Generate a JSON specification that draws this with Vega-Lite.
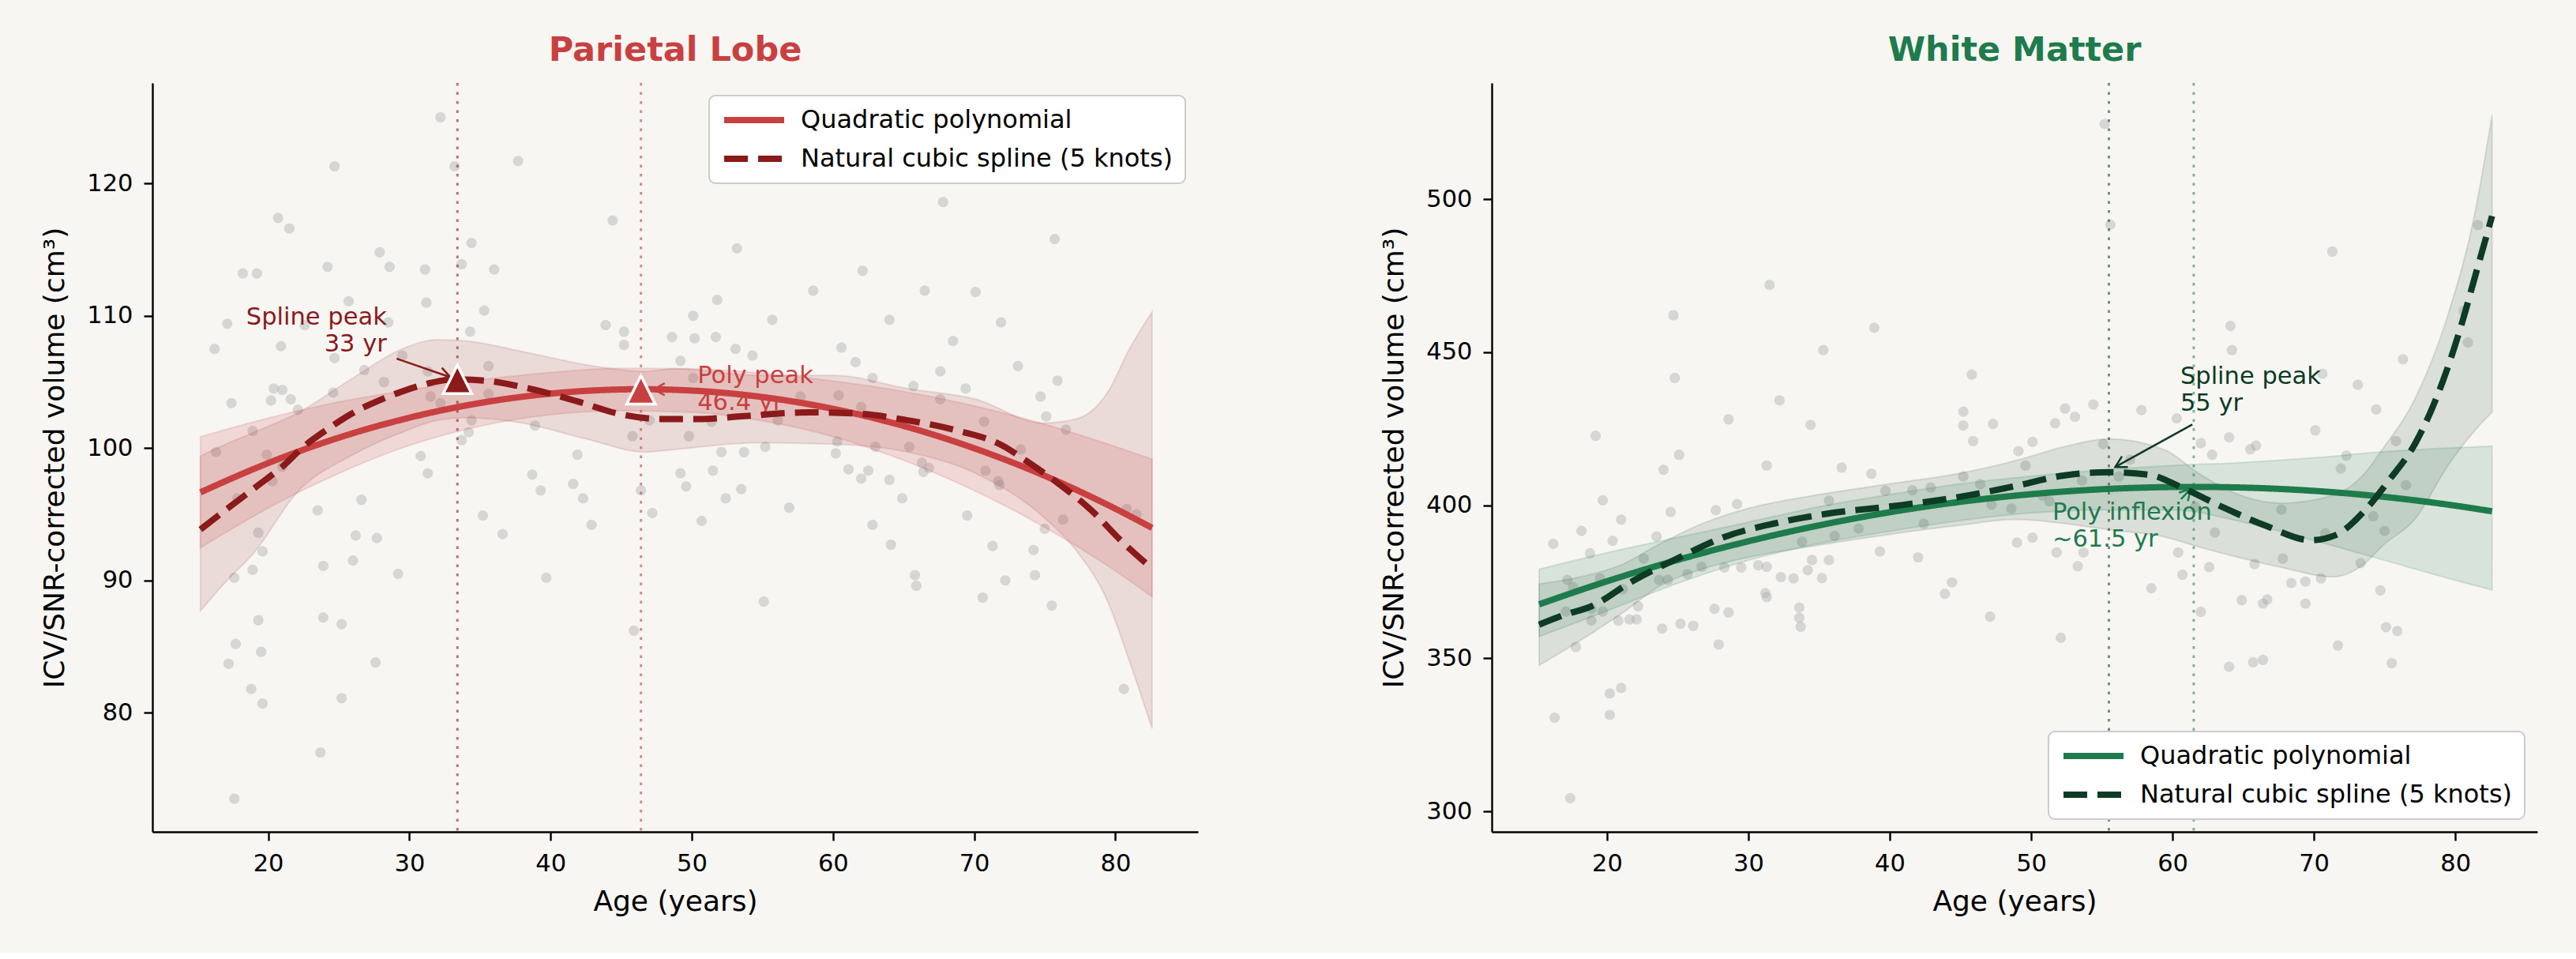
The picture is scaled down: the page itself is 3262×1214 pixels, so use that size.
{
  "$schema": "https://vega.github.io/schema/vega-lite/v6.json",
  "background": "#f7f6f3",
  "padding": {"left": 51, "top": 42, "right": 50, "bottom": 46},
  "spacing": 230,
  "config": {
    "font": "DejaVu Sans",
    "view": {"stroke": null},
    "axis": {
      "grid": false,
      "domainColor": "#000000",
      "domainWidth": 2.4,
      "tickColor": "#000000",
      "tickWidth": 2.4,
      "tickSize": 11,
      "labelFont": "DejaVu Sans",
      "labelFontSize": 30.5,
      "labelColor": "#000000",
      "labelPadding": 14,
      "titleFont": "DejaVu Sans",
      "titleFontSize": 36,
      "titleFontWeight": "normal",
      "titleColor": "#000000"
    },
    "axisX": {"titlePadding": 16},
    "axisY": {"titlePadding": 21},
    "title": {"font": "DejaVu Sans", "fontSize": 43, "fontWeight": "bold", "anchor": "middle", "frame": "group", "baseline": "alphabetic", "offset": 18},
    "legend": {
      "offset": 16,
      "padding": 15,
      "fillColor": "#ffffff",
      "strokeColor": "#cccccc",
      "strokeWidth": 2,
      "cornerRadius": 8,
      "labelFont": "DejaVu Sans",
      "labelFontSize": 32,
      "labelColor": "#000000",
      "labelOffset": 17,
      "labelLimit": 0,
      "rowPadding": 17,
      "clipHeight": 32,
      "symbolType": "stroke",
      "symbolSize": 5776,
      "symbolStrokeWidth": 8
    }
  },
  "datasets": {
    "pts_l": [
      {"age": 32.2, "vol": 125.0}, {"age": 24.7, "vol": 121.3}, {"age": 33.2, "vol": 121.3}, {"age": 37.7, "vol": 121.7},
      {"age": 20.7, "vol": 117.4}, {"age": 21.5, "vol": 116.6}, {"age": 44.4, "vol": 117.2}, {"age": 34.4, "vol": 115.5},
      {"age": 27.9, "vol": 114.8}, {"age": 18.2, "vol": 113.2}, {"age": 19.2, "vol": 113.2}, {"age": 24.2, "vol": 113.7},
      {"age": 28.6, "vol": 113.7}, {"age": 31.1, "vol": 113.5}, {"age": 33.7, "vol": 113.9}, {"age": 36.0, "vol": 113.5},
      {"age": 25.7, "vol": 111.1}, {"age": 31.2, "vol": 111.0}, {"age": 35.3, "vol": 110.4}, {"age": 17.1, "vol": 109.4},
      {"age": 22.6, "vol": 109.3}, {"age": 28.5, "vol": 109.5}, {"age": 34.3, "vol": 108.8}, {"age": 16.2, "vol": 107.5},
      {"age": 20.9, "vol": 107.7}, {"age": 24.7, "vol": 106.8}, {"age": 29.5, "vol": 107.0}, {"age": 43.9, "vol": 109.3},
      {"age": 45.2, "vol": 108.8}, {"age": 45.2, "vol": 107.8}, {"age": 26.8, "vol": 105.9}, {"age": 35.6, "vol": 106.2},
      {"age": 31.3, "vol": 105.8}, {"age": 28.2, "vol": 105.0}, {"age": 20.4, "vol": 104.5}, {"age": 21.0, "vol": 104.4},
      {"age": 24.6, "vol": 104.2}, {"age": 17.4, "vol": 103.4}, {"age": 20.2, "vol": 103.6}, {"age": 21.6, "vol": 103.7},
      {"age": 22.1, "vol": 102.9}, {"age": 31.5, "vol": 103.9}, {"age": 35.6, "vol": 104.1}, {"age": 32.2, "vol": 103.4},
      {"age": 18.9, "vol": 101.3}, {"age": 34.4, "vol": 102.1}, {"age": 34.2, "vol": 101.2}, {"age": 33.7, "vol": 100.6},
      {"age": 38.9, "vol": 101.7}, {"age": 45.8, "vol": 100.9}, {"age": 47.0, "vol": 102.1}, {"age": 16.3, "vol": 99.7},
      {"age": 19.9, "vol": 99.5}, {"age": 30.8, "vol": 99.4}, {"age": 41.9, "vol": 99.5},
      {"age": 31.3, "vol": 98.1}, {"age": 38.7, "vol": 98.0}, {"age": 39.3, "vol": 96.8}, {"age": 41.6, "vol": 97.3},
      {"age": 42.3, "vol": 96.2}, {"age": 46.4, "vol": 96.8}, {"age": 47.2, "vol": 95.1}, {"age": 42.9, "vol": 94.2},
      {"age": 35.2, "vol": 94.9}, {"age": 36.6, "vol": 93.5}, {"age": 26.6, "vol": 96.1}, {"age": 23.5, "vol": 95.3},
      {"age": 20.3, "vol": 97.5}, {"age": 17.8, "vol": 96.2}, {"age": 19.3, "vol": 93.6}, {"age": 19.6, "vol": 92.2},
      {"age": 18.9, "vol": 90.8}, {"age": 17.6, "vol": 90.2}, {"age": 26.2, "vol": 93.4}, {"age": 27.7, "vol": 93.2},
      {"age": 26.0, "vol": 91.5}, {"age": 23.9, "vol": 91.1}, {"age": 29.2, "vol": 90.5}, {"age": 39.7, "vol": 90.2},
      {"age": 19.3, "vol": 87.0}, {"age": 23.9, "vol": 87.2}, {"age": 25.2, "vol": 86.7}, {"age": 45.9, "vol": 86.2},
      {"age": 17.7, "vol": 85.2}, {"age": 19.5, "vol": 84.6}, {"age": 17.2, "vol": 83.7}, {"age": 27.6, "vol": 83.8},
      {"age": 18.8, "vol": 81.8}, {"age": 19.6, "vol": 80.7}, {"age": 25.2, "vol": 81.1}, {"age": 23.7, "vol": 77.0},
      {"age": 17.6, "vol": 73.5}, {"age": 21.0, "vol": 98.6},
      {"age": 67.8, "vol": 118.6}, {"age": 53.2, "vol": 115.1}, {"age": 75.7, "vol": 115.8}, {"age": 62.1, "vol": 113.4},
      {"age": 58.6, "vol": 111.9}, {"age": 66.5, "vol": 111.9}, {"age": 70.1, "vol": 111.8}, {"age": 51.8, "vol": 111.2},
      {"age": 50.1, "vol": 110.0}, {"age": 55.7, "vol": 109.7}, {"age": 64.0, "vol": 109.7}, {"age": 71.9, "vol": 109.5},
      {"age": 68.5, "vol": 108.1}, {"age": 50.2, "vol": 108.3}, {"age": 51.7, "vol": 108.4}, {"age": 48.6, "vol": 108.4},
      {"age": 53.1, "vol": 107.5}, {"age": 54.3, "vol": 107.0}, {"age": 60.6, "vol": 107.6}, {"age": 49.2, "vol": 106.6},
      {"age": 61.6, "vol": 106.5}, {"age": 73.1, "vol": 106.2}, {"age": 67.6, "vol": 105.8}, {"age": 75.9, "vol": 105.1},
      {"age": 62.8, "vol": 105.3}, {"age": 65.7, "vol": 104.7}, {"age": 69.4, "vol": 104.5}, {"age": 60.4, "vol": 104.0},
      {"age": 57.7, "vol": 103.9}, {"age": 67.6, "vol": 103.7}, {"age": 74.7, "vol": 103.9}, {"age": 75.1, "vol": 102.4},
      {"age": 76.5, "vol": 101.4}, {"age": 70.7, "vol": 102.0}, {"age": 56.1, "vol": 102.1}, {"age": 51.4, "vol": 102.0},
      {"age": 62.0, "vol": 103.1}, {"age": 49.8, "vol": 100.9}, {"age": 60.3, "vol": 100.5}, {"age": 55.2, "vol": 100.1},
      {"age": 52.1, "vol": 99.7}, {"age": 53.7, "vol": 99.7}, {"age": 63.0, "vol": 100.1}, {"age": 65.4, "vol": 100.1},
      {"age": 73.3, "vol": 99.9}, {"age": 60.2, "vol": 99.6}, {"age": 50.1, "vol": 105.3},
      {"age": 49.2, "vol": 98.1}, {"age": 51.5, "vol": 98.3}, {"age": 49.6, "vol": 97.1}, {"age": 53.5, "vol": 96.9},
      {"age": 52.4, "vol": 96.2}, {"age": 50.7, "vol": 94.5}, {"age": 56.9, "vol": 95.5}, {"age": 55.1, "vol": 88.4},
      {"age": 61.1, "vol": 98.4}, {"age": 62.5, "vol": 98.3}, {"age": 62.0, "vol": 97.7}, {"age": 64.0, "vol": 97.6},
      {"age": 66.3, "vol": 98.9}, {"age": 66.8, "vol": 98.5}, {"age": 66.4, "vol": 98.2}, {"age": 64.9, "vol": 96.2},
      {"age": 62.8, "vol": 94.2}, {"age": 64.1, "vol": 92.7}, {"age": 65.8, "vol": 90.4}, {"age": 65.9, "vol": 89.6},
      {"age": 69.5, "vol": 94.9}, {"age": 70.8, "vol": 98.3}, {"age": 71.7, "vol": 97.5}, {"age": 71.8, "vol": 97.2},
      {"age": 71.3, "vol": 92.6}, {"age": 72.2, "vol": 90.0}, {"age": 70.6, "vol": 88.7}, {"age": 74.2, "vol": 92.3},
      {"age": 74.3, "vol": 90.4}, {"age": 75.0, "vol": 93.9}, {"age": 75.5, "vol": 88.1}, {"age": 76.3, "vol": 94.6},
      {"age": 80.8, "vol": 95.4}, {"age": 81.5, "vol": 95.0}, {"age": 80.6, "vol": 81.8}
    ],
    "pts_r": [
      {"age": 55.2, "vol": 524.6}, {"age": 55.6, "vol": 491.7}, {"age": 71.3, "vol": 482.9}, {"age": 81.6, "vol": 491.6},
      {"age": 31.5, "vol": 472.0}, {"age": 24.7, "vol": 462.1}, {"age": 38.9, "vol": 458.0}, {"age": 64.1, "vol": 458.6},
      {"age": 80.6, "vol": 463.5}, {"age": 80.9, "vol": 453.2}, {"age": 35.3, "vol": 450.7}, {"age": 64.2, "vol": 450.7},
      {"age": 76.3, "vol": 447.7}, {"age": 24.8, "vol": 441.6}, {"age": 45.8, "vol": 442.7}, {"age": 70.6, "vol": 443.0},
      {"age": 73.1, "vol": 439.4}, {"age": 32.2, "vol": 434.3}, {"age": 74.4, "vol": 431.3}, {"age": 28.6, "vol": 428.1},
      {"age": 34.4, "vol": 426.3}, {"age": 45.2, "vol": 430.6}, {"age": 45.2, "vol": 426.1}, {"age": 47.3, "vol": 426.6},
      {"age": 52.4, "vol": 431.6}, {"age": 53.1, "vol": 428.9}, {"age": 51.7, "vol": 426.8}, {"age": 54.4, "vol": 432.9},
      {"age": 57.8, "vol": 431.1}, {"age": 60.3, "vol": 428.4}, {"age": 19.2, "vol": 422.7}, {"age": 25.1, "vol": 416.5},
      {"age": 24.0, "vol": 411.6}, {"age": 31.3, "vol": 413.0}, {"age": 36.6, "vol": 412.3}, {"age": 38.7, "vol": 410.3},
      {"age": 49.1, "vol": 417.7}, {"age": 50.1, "vol": 420.7}, {"age": 49.6, "vol": 413.0}, {"age": 45.9, "vol": 421.0},
      {"age": 55.1, "vol": 420.0}, {"age": 62.0, "vol": 420.3}, {"age": 62.8, "vol": 416.5}, {"age": 64.0, "vol": 422.2},
      {"age": 65.5, "vol": 418.3}, {"age": 65.9, "vol": 419.5}, {"age": 70.1, "vol": 424.5}, {"age": 72.3, "vol": 416.2},
      {"age": 71.9, "vol": 412.0}, {"age": 75.8, "vol": 421.0}, {"age": 76.5, "vol": 406.6}, {"age": 57.0, "vol": 414.9},
      {"age": 53.6, "vol": 408.1}, {"age": 56.2, "vol": 409.4}, {"age": 45.2, "vol": 409.4}, {"age": 46.4, "vol": 406.9},
      {"age": 42.9, "vol": 405.8},
      {"age": 19.7, "vol": 401.6}, {"age": 16.2, "vol": 387.4}, {"age": 18.2, "vol": 391.6}, {"age": 20.4, "vol": 388.4},
      {"age": 21.0, "vol": 395.3}, {"age": 18.8, "vol": 384.3}, {"age": 24.5, "vol": 397.8}, {"age": 23.5, "vol": 389.8},
      {"age": 27.7, "vol": 398.4}, {"age": 29.2, "vol": 400.4}, {"age": 22.6, "vol": 382.6}, {"age": 17.2, "vol": 375.6},
      {"age": 19.5, "vol": 376.1}, {"age": 17.6, "vol": 373.3}, {"age": 21.1, "vol": 372.6}, {"age": 18.9, "vol": 366.2},
      {"age": 17.1, "vol": 365.3}, {"age": 19.7, "vol": 365.3}, {"age": 18.9, "vol": 362.3}, {"age": 20.8, "vol": 362.3},
      {"age": 21.6, "vol": 362.7}, {"age": 22.1, "vol": 362.7}, {"age": 22.2, "vol": 367.0}, {"age": 23.9, "vol": 359.7},
      {"age": 25.2, "vol": 361.3}, {"age": 26.1, "vol": 360.6}, {"age": 27.6, "vol": 366.2}, {"age": 28.6, "vol": 365.0},
      {"age": 27.9, "vol": 354.5}, {"age": 17.8, "vol": 353.7}, {"age": 21.0, "vol": 340.3}, {"age": 20.2, "vol": 338.5},
      {"age": 20.2, "vol": 331.5}, {"age": 16.3, "vol": 330.6}, {"age": 17.4, "vol": 304.3}, {"age": 23.7, "vol": 375.6},
      {"age": 24.3, "vol": 375.6}, {"age": 25.7, "vol": 377.5}, {"age": 26.7, "vol": 379.9}, {"age": 28.3, "vol": 379.7},
      {"age": 29.5, "vol": 379.7}, {"age": 30.7, "vol": 380.4}, {"age": 31.3, "vol": 379.9}, {"age": 32.3, "vol": 376.5},
      {"age": 33.2, "vol": 376.1}, {"age": 34.2, "vol": 378.8}, {"age": 35.2, "vol": 376.2}, {"age": 34.5, "vol": 382.1},
      {"age": 35.7, "vol": 382.1}, {"age": 31.2, "vol": 371.3}, {"age": 31.3, "vol": 370.0}, {"age": 33.6, "vol": 366.6},
      {"age": 33.6, "vol": 363.2}, {"age": 33.7, "vol": 360.3}, {"age": 33.8, "vol": 388.1}, {"age": 36.1, "vol": 390.0},
      {"age": 37.8, "vol": 392.4}, {"age": 35.7, "vol": 401.5}, {"age": 39.3, "vol": 384.9}, {"age": 42.0, "vol": 383.0},
      {"age": 42.4, "vol": 394.0}, {"age": 39.7, "vol": 404.7}, {"age": 41.6, "vol": 404.9}, {"age": 47.2, "vol": 400.2},
      {"age": 48.6, "vol": 398.9}, {"age": 44.4, "vol": 374.8}, {"age": 43.9, "vol": 371.1}, {"age": 47.1, "vol": 363.6},
      {"age": 49.0, "vol": 387.8}, {"age": 50.1, "vol": 389.4}, {"age": 51.8, "vol": 384.6}, {"age": 53.3, "vol": 380.1},
      {"age": 53.7, "vol": 384.6}, {"age": 52.1, "vol": 356.7}, {"age": 58.5, "vol": 372.9}, {"age": 60.4, "vol": 384.6},
      {"age": 60.7, "vol": 377.3}, {"age": 62.0, "vol": 365.2}, {"age": 62.6, "vol": 379.8}, {"age": 63.0, "vol": 391.1},
      {"age": 64.9, "vol": 369.0}, {"age": 65.8, "vol": 380.8}, {"age": 64.0, "vol": 347.2}, {"age": 65.7, "vol": 348.7},
      {"age": 66.4, "vol": 349.5}, {"age": 66.4, "vol": 367.9}, {"age": 66.7, "vol": 369.2}, {"age": 67.8, "vol": 382.6},
      {"age": 67.7, "vol": 398.6}, {"age": 68.4, "vol": 374.6}, {"age": 69.4, "vol": 375.1}, {"age": 69.4, "vol": 367.9},
      {"age": 70.5, "vol": 376.1}, {"age": 71.7, "vol": 354.2}, {"age": 73.3, "vol": 381.1}, {"age": 74.7, "vol": 372.2},
      {"age": 75.0, "vol": 391.6}, {"age": 75.1, "vol": 360.2}, {"age": 75.9, "vol": 358.9}, {"age": 75.5, "vol": 348.4},
      {"age": 50.8, "vol": 403.2}, {"age": 51.3, "vol": 401.3}, {"age": 61.6, "vol": 399.5}, {"age": 74.2, "vol": 396.4},
      {"age": 70.8, "vol": 390.8}
    ],
    "band_l_spl": [
      {"age": 15.2, "lo": 87.7, "hi": 99.4}, {"age": 17.0, "lo": 89.9, "hi": 100.3}, {"age": 19.0, "lo": 92.1, "hi": 101.2},
      {"age": 22.0, "lo": 96.6, "hi": 102.6}, {"age": 26.0, "lo": 99.5, "hi": 105.3}, {"age": 29.5, "lo": 101.2, "hi": 107.5},
      {"age": 32.0, "lo": 102.1, "hi": 108.2}, {"age": 34.0, "lo": 102.3, "hi": 108.1}, {"age": 38.0, "lo": 101.9, "hi": 107.3},
      {"age": 42.5, "lo": 100.7, "hi": 106.3}, {"age": 46.7, "lo": 99.7, "hi": 105.8}, {"age": 48.8, "lo": 99.9, "hi": 106.0},
      {"age": 54.7, "lo": 100.4, "hi": 105.5}, {"age": 60.1, "lo": 100.3, "hi": 105.5}, {"age": 65.3, "lo": 99.7, "hi": 104.5},
      {"age": 70.1, "lo": 98.1, "hi": 103.7}, {"age": 74.8, "lo": 94.9, "hi": 101.9}, {"age": 77.2, "lo": 92.3, "hi": 102.2},
      {"age": 79.5, "lo": 88.3, "hi": 104.3}, {"age": 80.9, "lo": 84.2, "hi": 107.3}, {"age": 82.6, "lo": 78.8, "hi": 110.3}
    ],
    "band_l_poly": [
      {"age": 15.2, "lo": 92.46, "hi": 100.86}, {"age": 20, "lo": 95.47, "hi": 102.27}, {"age": 25, "lo": 98.09, "hi": 103.49},
      {"age": 30, "lo": 100.2, "hi": 104.4}, {"age": 35, "lo": 101.66, "hi": 105.16}, {"age": 40, "lo": 102.52, "hi": 105.72},
      {"age": 45, "lo": 102.83, "hi": 106.03}, {"age": 50, "lo": 102.7, "hi": 106.0}, {"age": 55, "lo": 102.06, "hi": 105.66},
      {"age": 60, "lo": 100.87, "hi": 105.07}, {"age": 65, "lo": 99.08, "hi": 104.28}, {"age": 70, "lo": 96.79, "hi": 103.19},
      {"age": 75, "lo": 94.01, "hi": 101.81}, {"age": 80, "lo": 90.72, "hi": 100.12}, {"age": 82.6, "lo": 88.77, "hi": 99.17}
    ],
    "band_r_spl": [
      {"age": 15.2, "lo": 347.7, "hi": 374.3}, {"age": 18, "lo": 355.5, "hi": 376.5}, {"age": 21, "lo": 364.5, "hi": 380.5},
      {"age": 23.7, "lo": 373.5, "hi": 387.3}, {"age": 27, "lo": 379.5, "hi": 394.5}, {"age": 30, "lo": 383.0, "hi": 399.0},
      {"age": 35, "lo": 387.0, "hi": 403.5}, {"age": 40, "lo": 390.5, "hi": 407.0}, {"age": 45, "lo": 393.5, "hi": 410.5},
      {"age": 48.9, "lo": 395.4, "hi": 414.6}, {"age": 52.4, "lo": 394.0, "hi": 419.2}, {"age": 55.5, "lo": 392.0, "hi": 421.7},
      {"age": 59.5, "lo": 389.6, "hi": 418.0}, {"age": 61.8, "lo": 386.5, "hi": 410.6}, {"age": 64.2, "lo": 383.5, "hi": 404.4},
      {"age": 67.7, "lo": 379.7, "hi": 400.7}, {"age": 71.3, "lo": 376.6, "hi": 403.2}, {"age": 73.6, "lo": 381.0, "hi": 410.5},
      {"age": 74.8, "lo": 386.5, "hi": 418.0}, {"age": 77.2, "lo": 395.8, "hi": 435.3}, {"age": 79.5, "lo": 413.1, "hi": 462.5},
      {"age": 81.4, "lo": 424.5, "hi": 495.8}, {"age": 82.6, "lo": 430.4, "hi": 527.5}
    ],
    "band_r_poly": [
      {"age": 15.2, "lo": 357.1, "hi": 379.1}, {"age": 20, "lo": 365.5, "hi": 384.5}, {"age": 25, "lo": 374.5, "hi": 389.5},
      {"age": 30, "lo": 382.0, "hi": 394.5}, {"age": 35, "lo": 387.5, "hi": 399.5}, {"age": 40, "lo": 391.5, "hi": 403.5},
      {"age": 45, "lo": 395.0, "hi": 407.0}, {"age": 50, "lo": 397.5, "hi": 409.5}, {"age": 55, "lo": 398.5, "hi": 411.5},
      {"age": 60, "lo": 398.5, "hi": 413.0}, {"age": 65, "lo": 394.5, "hi": 414.0}, {"age": 70, "lo": 388.5, "hi": 415.5},
      {"age": 75, "lo": 382.0, "hi": 417.5}, {"age": 80, "lo": 375.5, "hi": 418.8}, {"age": 82.6, "lo": 372.3, "hi": 419.3}
    ],
    "lines_l": [
      {"age": 15.2, "vol": 96.66, "series": "Quadratic polynomial"}, {"age": 20, "vol": 98.87, "series": "Quadratic polynomial"},
      {"age": 25, "vol": 100.79, "series": "Quadratic polynomial"}, {"age": 30, "vol": 102.30, "series": "Quadratic polynomial"},
      {"age": 35, "vol": 103.41, "series": "Quadratic polynomial"}, {"age": 40, "vol": 104.12, "series": "Quadratic polynomial"},
      {"age": 46.4, "vol": 104.45, "series": "Quadratic polynomial"}, {"age": 50, "vol": 104.35, "series": "Quadratic polynomial"},
      {"age": 55, "vol": 103.86, "series": "Quadratic polynomial"}, {"age": 60, "vol": 102.97, "series": "Quadratic polynomial"},
      {"age": 65, "vol": 101.68, "series": "Quadratic polynomial"}, {"age": 70, "vol": 99.99, "series": "Quadratic polynomial"},
      {"age": 75, "vol": 97.91, "series": "Quadratic polynomial"}, {"age": 80, "vol": 95.42, "series": "Quadratic polynomial"},
      {"age": 82.6, "vol": 93.97, "series": "Quadratic polynomial"},
      {"age": 15.2, "vol": 93.85, "series": "Natural cubic spline (5 knots)"}, {"age": 17.2, "vol": 95.5, "series": "Natural cubic spline (5 knots)"},
      {"age": 19.3, "vol": 97.2, "series": "Natural cubic spline (5 knots)"}, {"age": 21.0, "vol": 98.6, "series": "Natural cubic spline (5 knots)"},
      {"age": 22.5, "vol": 100.1, "series": "Natural cubic spline (5 knots)"}, {"age": 24.3, "vol": 101.5, "series": "Natural cubic spline (5 knots)"},
      {"age": 25.9, "vol": 102.6, "series": "Natural cubic spline (5 knots)"}, {"age": 28.3, "vol": 103.8, "series": "Natural cubic spline (5 knots)"},
      {"age": 30.7, "vol": 104.7, "series": "Natural cubic spline (5 knots)"}, {"age": 32.3, "vol": 105.1, "series": "Natural cubic spline (5 knots)"},
      {"age": 33.4, "vol": 105.2, "series": "Natural cubic spline (5 knots)"}, {"age": 35.4, "vol": 105.1, "series": "Natural cubic spline (5 knots)"},
      {"age": 38.5, "vol": 104.5, "series": "Natural cubic spline (5 knots)"}, {"age": 42.0, "vol": 103.5, "series": "Natural cubic spline (5 knots)"},
      {"age": 44.8, "vol": 102.6, "series": "Natural cubic spline (5 knots)"}, {"age": 47.9, "vol": 102.2, "series": "Natural cubic spline (5 knots)"},
      {"age": 50.5, "vol": 102.2, "series": "Natural cubic spline (5 knots)"}, {"age": 53.5, "vol": 102.4, "series": "Natural cubic spline (5 knots)"},
      {"age": 58.3, "vol": 102.7, "series": "Natural cubic spline (5 knots)"}, {"age": 61.8, "vol": 102.6, "series": "Natural cubic spline (5 knots)"},
      {"age": 65.3, "vol": 102.1, "series": "Natural cubic spline (5 knots)"}, {"age": 68.9, "vol": 101.3, "series": "Natural cubic spline (5 knots)"},
      {"age": 72.0, "vol": 100.2, "series": "Natural cubic spline (5 knots)"}, {"age": 73.6, "vol": 99.1, "series": "Natural cubic spline (5 knots)"},
      {"age": 76.0, "vol": 97.3, "series": "Natural cubic spline (5 knots)"}, {"age": 78.3, "vol": 95.3, "series": "Natural cubic spline (5 knots)"},
      {"age": 80.5, "vol": 92.9, "series": "Natural cubic spline (5 knots)"}, {"age": 82.6, "vol": 90.9, "series": "Natural cubic spline (5 knots)"}
    ],
    "lines_r": [
      {"age": 15.2, "vol": 367.63, "series": "Quadratic polynomial"}, {"age": 20, "vol": 375.17, "series": "Quadratic polynomial"},
      {"age": 25, "vol": 382.15, "series": "Quadratic polynomial"}, {"age": 30, "vol": 388.24, "series": "Quadratic polynomial"},
      {"age": 35, "vol": 393.43, "series": "Quadratic polynomial"}, {"age": 40, "vol": 397.73, "series": "Quadratic polynomial"},
      {"age": 45, "vol": 401.13, "series": "Quadratic polynomial"}, {"age": 50, "vol": 403.63, "series": "Quadratic polynomial"},
      {"age": 55, "vol": 405.24, "series": "Quadratic polynomial"}, {"age": 61.5, "vol": 406.0, "series": "Quadratic polynomial"},
      {"age": 65, "vol": 405.78, "series": "Quadratic polynomial"}, {"age": 70, "vol": 404.71, "series": "Quadratic polynomial"},
      {"age": 75, "vol": 402.74, "series": "Quadratic polynomial"}, {"age": 80, "vol": 399.87, "series": "Quadratic polynomial"},
      {"age": 82.6, "vol": 398.03, "series": "Quadratic polynomial"},
      {"age": 15.2, "vol": 361.0, "series": "Natural cubic spline (5 knots)"}, {"age": 17.0, "vol": 364.2, "series": "Natural cubic spline (5 knots)"},
      {"age": 18.9, "vol": 367.0, "series": "Natural cubic spline (5 knots)"}, {"age": 21.8, "vol": 375.2, "series": "Natural cubic spline (5 knots)"},
      {"age": 25.1, "vol": 382.9, "series": "Natural cubic spline (5 knots)"}, {"age": 28.4, "vol": 389.8, "series": "Natural cubic spline (5 knots)"},
      {"age": 31.9, "vol": 394.1, "series": "Natural cubic spline (5 knots)"}, {"age": 35.5, "vol": 397.2, "series": "Natural cubic spline (5 knots)"},
      {"age": 40.2, "vol": 399.7, "series": "Natural cubic spline (5 knots)"}, {"age": 44.9, "vol": 402.7, "series": "Natural cubic spline (5 knots)"},
      {"age": 48.9, "vol": 406.3, "series": "Natural cubic spline (5 knots)"}, {"age": 52.4, "vol": 409.8, "series": "Natural cubic spline (5 knots)"},
      {"age": 55.5, "vol": 410.8, "series": "Natural cubic spline (5 knots)"}, {"age": 58.3, "vol": 410.0, "series": "Natural cubic spline (5 knots)"},
      {"age": 60.7, "vol": 405.7, "series": "Natural cubic spline (5 knots)"}, {"age": 63.5, "vol": 399.5, "series": "Natural cubic spline (5 knots)"},
      {"age": 66.6, "vol": 393.3, "series": "Natural cubic spline (5 knots)"}, {"age": 69.8, "vol": 388.6, "series": "Natural cubic spline (5 knots)"},
      {"age": 71.5, "vol": 390.2, "series": "Natural cubic spline (5 knots)"}, {"age": 73.6, "vol": 398.3, "series": "Natural cubic spline (5 knots)"},
      {"age": 75.3, "vol": 408.1, "series": "Natural cubic spline (5 knots)"}, {"age": 77.2, "vol": 420.5, "series": "Natural cubic spline (5 knots)"},
      {"age": 79.1, "vol": 440.3, "series": "Natural cubic spline (5 knots)"}, {"age": 80.5, "vol": 460.0, "series": "Natural cubic spline (5 knots)"},
      {"age": 81.4, "vol": 474.8, "series": "Natural cubic spline (5 knots)"}, {"age": 82.6, "vol": 494.5, "series": "Natural cubic spline (5 knots)"}
    ],
    "marks_l": [
      {"fit": "spline", "age": 33.4, "vol": 105.2, "label": "Spline peak\n33 yr", "tx": 28.4, "ty": 109.85, "ax": 29.1, "ay": 106.76, "bx": 32.9, "by": 105.36},
      {"fit": "poly", "age": 46.4, "vol": 104.4, "label": "Poly peak\n46.4 yr", "tx": 50.4, "ty": 105.47, "ax": 50.3, "ay": 104.47, "bx": 47.3, "by": 104.45}
    ],
    "marks_r": [
      {"fit": "spline", "age": 55.5, "vol": 410.8, "label": "Spline peak\n55 yr", "tx": 60.55, "ty": 442.1, "ax": 61.4, "ay": 426.4, "bx": 55.95, "by": 412.5},
      {"fit": "poly", "age": 61.5, "vol": 406.0, "label": "Poly inflexion\n~61.5 yr", "tx": 51.5, "ty": 397.6, "ax": 60.6, "ay": 402.0, "bx": 61.3, "by": 405.4}
    ]
  },
  "hconcat": [
    {
      "width": 1324,
      "height": 948,
      "title": {"text": "Parietal Lobe", "color": "#c94040"},
      "layer": [
        {
          "data": {"name": "pts_l"},
          "mark": {"type": "circle", "size": 175, "color": "#a9a9a9", "opacity": 0.42},
          "encoding": {
            "x": {"field": "age", "type": "quantitative", "title": "Age (years)", "scale": {"domain": [11.8, 85.85], "nice": false, "zero": false}, "axis": {"values": [20, 30, 40, 50, 60, 70, 80], "format": "d"}},
            "y": {"field": "vol", "type": "quantitative", "title": "ICV/SNR-corrected volume (cm³)", "scale": {"domain": [71, 127.6], "nice": false, "zero": false}, "axis": {"values": [80, 90, 100, 110, 120], "format": "d"}}
          }
        },
        {
          "data": {"name": "band_l_spl"},
          "mark": {"type": "area", "interpolate": "monotone", "fill": "#8b1a1a", "fillOpacity": 0.12, "stroke": "#8b1a1a", "strokeOpacity": 0.12, "strokeWidth": 2},
          "encoding": {
            "x": {"field": "age", "type": "quantitative", "title": "Age (years)", "scale": {"domain": [11.8, 85.85], "nice": false, "zero": false}},
            "y": {"field": "lo", "type": "quantitative", "title": "ICV/SNR-corrected volume (cm³)", "scale": {"domain": [71, 127.6], "nice": false, "zero": false}},
            "y2": {"field": "hi"}
          }
        },
        {
          "data": {"name": "band_l_poly"},
          "mark": {"type": "area", "interpolate": "monotone", "fill": "#c94040", "fillOpacity": 0.16, "stroke": "#c94040", "strokeOpacity": 0.15, "strokeWidth": 2},
          "encoding": {
            "x": {"field": "age", "type": "quantitative", "title": "Age (years)", "scale": {"domain": [11.8, 85.85], "nice": false, "zero": false}},
            "y": {"field": "lo", "type": "quantitative", "title": "ICV/SNR-corrected volume (cm³)", "scale": {"domain": [71, 127.6], "nice": false, "zero": false}},
            "y2": {"field": "hi"}
          }
        },
        {
          "data": {"name": "marks_l"},
          "mark": {"type": "rule", "strokeWidth": 3, "strokeDash": [3.5, 8], "opacity": 0.6},
          "encoding": {
            "x": {"field": "age", "type": "quantitative", "title": "Age (years)", "scale": {"domain": [11.8, 85.85], "nice": false, "zero": false}},
            "stroke": {"field": "fit", "type": "nominal", "scale": {"domain": ["spline", "poly"], "range": ["#8b1a1a", "#c94040"]}, "legend": null}
          }
        },
        {
          "data": {"name": "marks_l"},
          "transform": [{"filter": "datum.fit === 'spline'"}],
          "mark": {"type": "text", "align": "right", "baseline": "middle", "fontSize": 30.5, "lineBreak": "\n", "lineHeight": 34, "color": "#8b1a1a"},
          "encoding": {
            "x": {"field": "tx", "type": "quantitative", "title": "Age (years)", "scale": {"domain": [11.8, 85.85], "nice": false, "zero": false}},
            "y": {"field": "ty", "type": "quantitative", "title": "ICV/SNR-corrected volume (cm³)", "scale": {"domain": [71, 127.6], "nice": false, "zero": false}},
            "text": {"field": "label"}
          }
        },
        {
          "data": {"name": "marks_l"},
          "transform": [{"filter": "datum.fit === 'poly'"}],
          "mark": {"type": "text", "align": "left", "baseline": "middle", "fontSize": 30.5, "lineBreak": "\n", "lineHeight": 34, "color": "#c94040"},
          "encoding": {
            "x": {"field": "tx", "type": "quantitative", "title": "Age (years)", "scale": {"domain": [11.8, 85.85], "nice": false, "zero": false}},
            "y": {"field": "ty", "type": "quantitative", "title": "ICV/SNR-corrected volume (cm³)", "scale": {"domain": [71, 127.6], "nice": false, "zero": false}},
            "text": {"field": "label"}
          }
        },
        {
          "data": {"name": "marks_l"},
          "mark": {"type": "rule", "strokeWidth": 2.5},
          "encoding": {
            "x": {"field": "ax", "type": "quantitative", "title": "Age (years)", "scale": {"domain": [11.8, 85.85], "nice": false, "zero": false}},
            "y": {"field": "ay", "type": "quantitative", "title": "ICV/SNR-corrected volume (cm³)", "scale": {"domain": [71, 127.6], "nice": false, "zero": false}},
            "x2": {"field": "bx"},
            "y2": {"field": "by"},
            "stroke": {"field": "fit", "type": "nominal", "scale": {"domain": ["spline", "poly"], "range": ["#8b1a1a", "#c94040"]}, "legend": null}
          }
        },
        {
          "data": {"name": "marks_l"},
          "transform": [{"filter": "datum.fit === 'spline'"}],
          "mark": {"type": "point", "shape": "M -1 -0.55 L 0 0 L -1 0.55", "size": 784, "filled": false, "strokeWidth": 2.5, "angle": 19, "opacity": 1},
          "encoding": {
            "x": {"field": "bx", "type": "quantitative", "title": "Age (years)", "scale": {"domain": [11.8, 85.85], "nice": false, "zero": false}},
            "y": {"field": "by", "type": "quantitative", "title": "ICV/SNR-corrected volume (cm³)", "scale": {"domain": [71, 127.6], "nice": false, "zero": false}},
            "stroke": {"field": "fit", "type": "nominal", "scale": {"domain": ["spline", "poly"], "range": ["#8b1a1a", "#c94040"]}, "legend": null}
          }
        },
        {
          "data": {"name": "marks_l"},
          "transform": [{"filter": "datum.fit === 'poly'"}],
          "mark": {"type": "point", "shape": "M -1 -0.55 L 0 0 L -1 0.55", "size": 784, "filled": false, "strokeWidth": 2.5, "angle": 180, "opacity": 1},
          "encoding": {
            "x": {"field": "bx", "type": "quantitative", "title": "Age (years)", "scale": {"domain": [11.8, 85.85], "nice": false, "zero": false}},
            "y": {"field": "by", "type": "quantitative", "title": "ICV/SNR-corrected volume (cm³)", "scale": {"domain": [71, 127.6], "nice": false, "zero": false}},
            "stroke": {"field": "fit", "type": "nominal", "scale": {"domain": ["spline", "poly"], "range": ["#8b1a1a", "#c94040"]}, "legend": null}
          }
        },
        {
          "data": {"name": "lines_l"},
          "mark": {"type": "line", "interpolate": "monotone", "strokeWidth": 8},
          "encoding": {
            "x": {"field": "age", "type": "quantitative", "title": "Age (years)", "scale": {"domain": [11.8, 85.85], "nice": false, "zero": false}},
            "y": {"field": "vol", "type": "quantitative", "title": "ICV/SNR-corrected volume (cm³)", "scale": {"domain": [71, 127.6], "nice": false, "zero": false}},
            "color": {"field": "series", "type": "nominal", "scale": {"domain": ["Quadratic polynomial", "Natural cubic spline (5 knots)"], "range": ["#c94040", "#8b1a1a"]}, "legend": {"title": null, "orient": "top-right"}},
            "strokeDash": {"field": "series", "type": "nominal", "scale": {"domain": ["Quadratic polynomial", "Natural cubic spline (5 knots)"], "range": [[1, 0], [30, 13]]}, "legend": {"title": null, "orient": "top-right"}}
          }
        },
        {
          "data": {"name": "marks_l"},
          "mark": {"type": "point", "shape": "M 0 -1 L 1 1 L -1 1 Z", "size": 1296, "filled": true, "stroke": "#ffffff", "strokeWidth": 3.5, "opacity": 1},
          "encoding": {
            "x": {"field": "age", "type": "quantitative", "title": "Age (years)", "scale": {"domain": [11.8, 85.85], "nice": false, "zero": false}},
            "y": {"field": "vol", "type": "quantitative", "title": "ICV/SNR-corrected volume (cm³)", "scale": {"domain": [71, 127.6], "nice": false, "zero": false}},
            "fill": {"field": "fit", "type": "nominal", "scale": {"domain": ["spline", "poly"], "range": ["#8b1a1a", "#c94040"]}, "legend": null}
          }
        }
      ]
    },
    {
      "width": 1324,
      "height": 948,
      "title": {"text": "White Matter", "color": "#1e7b4c"},
      "layer": [
        {
          "data": {"name": "pts_r"},
          "mark": {"type": "circle", "size": 175, "color": "#a9a9a9", "opacity": 0.42},
          "encoding": {
            "x": {"field": "age", "type": "quantitative", "title": "Age (years)", "scale": {"domain": [11.85, 85.8], "nice": false, "zero": false}, "axis": {"values": [20, 30, 40, 50, 60, 70, 80], "format": "d"}},
            "y": {"field": "vol", "type": "quantitative", "title": "ICV/SNR-corrected volume (cm³)", "scale": {"domain": [293.3, 538], "nice": false, "zero": false}, "axis": {"values": [300, 350, 400, 450, 500], "format": "d"}}
          }
        },
        {
          "data": {"name": "band_r_spl"},
          "mark": {"type": "area", "interpolate": "monotone", "fill": "#0d3b24", "fillOpacity": 0.12, "stroke": "#0d3b24", "strokeOpacity": 0.12, "strokeWidth": 2},
          "encoding": {
            "x": {"field": "age", "type": "quantitative", "title": "Age (years)", "scale": {"domain": [11.85, 85.8], "nice": false, "zero": false}},
            "y": {"field": "lo", "type": "quantitative", "title": "ICV/SNR-corrected volume (cm³)", "scale": {"domain": [293.3, 538], "nice": false, "zero": false}},
            "y2": {"field": "hi"}
          }
        },
        {
          "data": {"name": "band_r_poly"},
          "mark": {"type": "area", "interpolate": "monotone", "fill": "#1e7b4c", "fillOpacity": 0.14, "stroke": "#1e7b4c", "strokeOpacity": 0.15, "strokeWidth": 2},
          "encoding": {
            "x": {"field": "age", "type": "quantitative", "title": "Age (years)", "scale": {"domain": [11.85, 85.8], "nice": false, "zero": false}},
            "y": {"field": "lo", "type": "quantitative", "title": "ICV/SNR-corrected volume (cm³)", "scale": {"domain": [293.3, 538], "nice": false, "zero": false}},
            "y2": {"field": "hi"}
          }
        },
        {
          "data": {"name": "marks_r"},
          "mark": {"type": "rule", "strokeWidth": 3, "strokeDash": [3.5, 8], "opacity": 0.55},
          "encoding": {
            "x": {"field": "age", "type": "quantitative", "title": "Age (years)", "scale": {"domain": [11.85, 85.8], "nice": false, "zero": false}},
            "stroke": {"field": "fit", "type": "nominal", "scale": {"domain": ["spline", "poly"], "range": ["#0d3b24", "#1e7b4c"]}, "legend": null}
          }
        },
        {
          "data": {"name": "marks_r"},
          "transform": [{"filter": "datum.fit === 'spline'"}],
          "mark": {"type": "text", "align": "left", "baseline": "middle", "fontSize": 30.5, "lineBreak": "\n", "lineHeight": 34, "color": "#0d3b24"},
          "encoding": {
            "x": {"field": "tx", "type": "quantitative", "title": "Age (years)", "scale": {"domain": [11.85, 85.8], "nice": false, "zero": false}},
            "y": {"field": "ty", "type": "quantitative", "title": "ICV/SNR-corrected volume (cm³)", "scale": {"domain": [293.3, 538], "nice": false, "zero": false}},
            "text": {"field": "label"}
          }
        },
        {
          "data": {"name": "marks_r"},
          "transform": [{"filter": "datum.fit === 'poly'"}],
          "mark": {"type": "text", "align": "left", "baseline": "middle", "fontSize": 30.5, "lineBreak": "\n", "lineHeight": 34, "color": "#1e7b4c"},
          "encoding": {
            "x": {"field": "tx", "type": "quantitative", "title": "Age (years)", "scale": {"domain": [11.85, 85.8], "nice": false, "zero": false}},
            "y": {"field": "ty", "type": "quantitative", "title": "ICV/SNR-corrected volume (cm³)", "scale": {"domain": [293.3, 538], "nice": false, "zero": false}},
            "text": {"field": "label"}
          }
        },
        {
          "data": {"name": "marks_r"},
          "mark": {"type": "rule", "strokeWidth": 2.5},
          "encoding": {
            "x": {"field": "ax", "type": "quantitative", "title": "Age (years)", "scale": {"domain": [11.85, 85.8], "nice": false, "zero": false}},
            "y": {"field": "ay", "type": "quantitative", "title": "ICV/SNR-corrected volume (cm³)", "scale": {"domain": [293.3, 538], "nice": false, "zero": false}},
            "x2": {"field": "bx"},
            "y2": {"field": "by"},
            "stroke": {"field": "fit", "type": "nominal", "scale": {"domain": ["spline", "poly"], "range": ["#0d3b24", "#1e7b4c"]}, "legend": null}
          }
        },
        {
          "data": {"name": "marks_r"},
          "transform": [{"filter": "datum.fit === 'spline'"}],
          "mark": {"type": "point", "shape": "M -1 -0.55 L 0 0 L -1 0.55", "size": 784, "filled": false, "strokeWidth": 2.5, "angle": 151, "opacity": 1},
          "encoding": {
            "x": {"field": "bx", "type": "quantitative", "title": "Age (years)", "scale": {"domain": [11.85, 85.8], "nice": false, "zero": false}},
            "y": {"field": "by", "type": "quantitative", "title": "ICV/SNR-corrected volume (cm³)", "scale": {"domain": [293.3, 538], "nice": false, "zero": false}},
            "stroke": {"field": "fit", "type": "nominal", "scale": {"domain": ["spline", "poly"], "range": ["#0d3b24", "#1e7b4c"]}, "legend": null}
          }
        },
        {
          "data": {"name": "marks_r"},
          "transform": [{"filter": "datum.fit === 'poly'"}],
          "mark": {"type": "point", "shape": "M -1 -0.55 L 0 0 L -1 0.55", "size": 784, "filled": false, "strokeWidth": 2.5, "angle": 313, "opacity": 1},
          "encoding": {
            "x": {"field": "bx", "type": "quantitative", "title": "Age (years)", "scale": {"domain": [11.85, 85.8], "nice": false, "zero": false}},
            "y": {"field": "by", "type": "quantitative", "title": "ICV/SNR-corrected volume (cm³)", "scale": {"domain": [293.3, 538], "nice": false, "zero": false}},
            "stroke": {"field": "fit", "type": "nominal", "scale": {"domain": ["spline", "poly"], "range": ["#0d3b24", "#1e7b4c"]}, "legend": null}
          }
        },
        {
          "data": {"name": "lines_r"},
          "mark": {"type": "line", "interpolate": "monotone", "strokeWidth": 8},
          "encoding": {
            "x": {"field": "age", "type": "quantitative", "title": "Age (years)", "scale": {"domain": [11.85, 85.8], "nice": false, "zero": false}},
            "y": {"field": "vol", "type": "quantitative", "title": "ICV/SNR-corrected volume (cm³)", "scale": {"domain": [293.3, 538], "nice": false, "zero": false}},
            "color": {"field": "series", "type": "nominal", "scale": {"domain": ["Quadratic polynomial", "Natural cubic spline (5 knots)"], "range": ["#1e7b4c", "#0d3b24"]}, "legend": {"title": null, "orient": "bottom-right"}},
            "strokeDash": {"field": "series", "type": "nominal", "scale": {"domain": ["Quadratic polynomial", "Natural cubic spline (5 knots)"], "range": [[1, 0], [30, 13]]}, "legend": {"title": null, "orient": "bottom-right"}}
          }
        }
      ]
    }
  ],
  "resolve": {
    "scale": {"x": "independent", "y": "independent", "color": "independent", "strokeDash": "independent", "stroke": "independent", "fill": "independent"},
    "legend": {"color": "independent", "strokeDash": "independent"}
  }
}
